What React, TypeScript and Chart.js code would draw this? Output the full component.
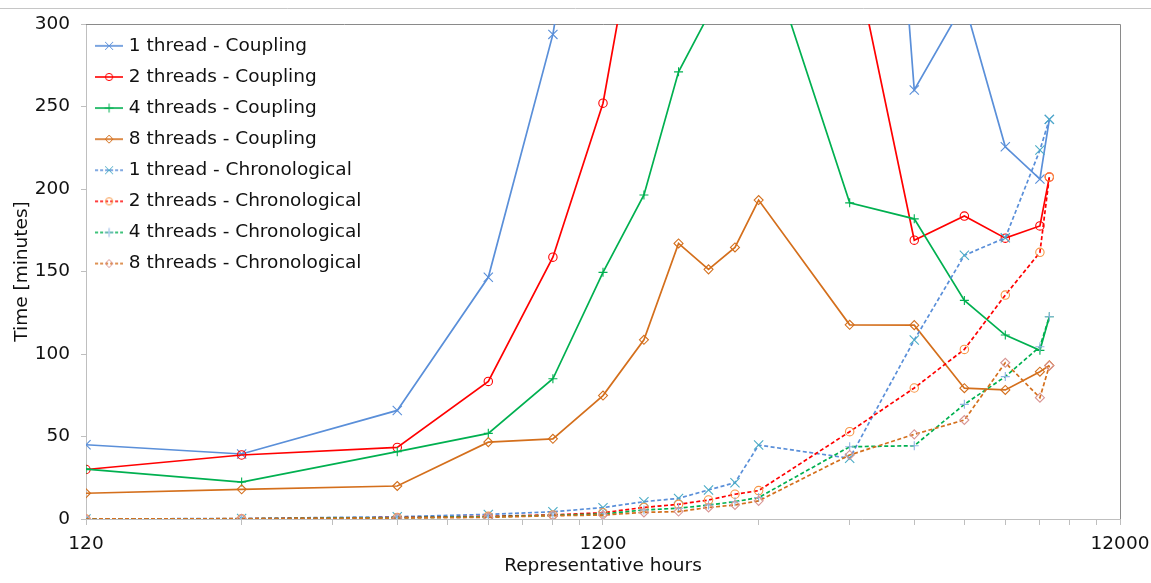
import React, { useEffect, useRef } from "react";
import { Chart, registerables } from "chart.js";

Chart.register(...registerables);

// Representative hours (x, logarithmic)
const HOURS = [120, 240, 480, 720, 960, 1200, 1440, 1680, 1920, 2160, 2400, 3600, 4800, 6000, 7200, 8400, 8760];

// Time in minutes
const COUPLING_1 = [45, 39.4, 65.8, 146.5, 293.7, 480, 540, 600, 650, 700, 740, 772, 260, 313, 225.6, 206, 242.2];
const COUPLING_2 = [30, 38.8, 43.4, 83.4, 158.7, 252, 390, 430, 470, 500, 520, 356, 169, 183.6, 170.2, 177.6, 207.2];
const COUPLING_4 = [30.2, 22.4, 40.8, 51.9, 85, 149.5, 196.4, 271, 305.5, 335, 360, 191.6, 181.9, 132.5, 111.5, 102.2, 122.6];
const COUPLING_8 = [15.6, 18, 20, 46.6, 48.6, 74.8, 108.6, 167, 151.3, 164.6, 193.3, 117.7, 117.5, 79.3, 78.2, 89.3, 93.1];
const CHRONO_1 = [0, 0.3, 1.4, 2.8, 4.4, 6.9, 10.5, 12.5, 17.6, 22, 44.8, 36.8, 108.5, 159.8, 170.4, 223.6, 242.2];
const CHRONO_2 = [0, 0.1, 0.9, 1.6, 2.5, 3.8, 7, 8.9, 11.5, 15, 17.2, 52.9, 79.4, 102.8, 135.7, 161.6, 207.3];
const CHRONO_4 = [0, 0.1, 0.8, 1.3, 2.2, 3, 5.5, 6.5, 8.5, 10.5, 13, 43.8, 44.4, 69.5, 86.3, 104.4, 122.6];
const CHRONO_8 = [0, 0.2, 0.6, 1, 2, 2.4, 4, 4.5, 7, 8.5, 11, 38.8, 51.3, 60, 94.7, 73.5, 92.9];

const SERIES_LABELS = [
  "1 thread - Coupling",
  "2 threads - Coupling",
  "4 threads - Coupling",
  "8 threads - Coupling",
  "1 thread - Chronological",
  "2 threads - Chronological",
  "4 threads - Chronological",
  "8 threads - Chronological",
];

const X_TICKS = [120, 240, 360, 480, 600, 720, 840, 960, 1080, 1200, 2400, 3600, 4800, 6000, 7200, 8400, 9600, 10800, 12000];
const X_LABELS = [120, 1200, 12000];
const Y_TICK_STEP = 50;

const FONT = "'DejaVu Sans', sans-serif";
const TEXT = "#111111";
const AXIS = "#bfbfbf";

const C1 = "#5A8FD9";
const C2 = "#FF0000";
const C4 = "#00B050";
const C8 = "#D46F1C";
const M1 = "#4BACC6";
const M2 = "#F79646";
const M4 = "#8EB4E3";
const M8 = "#D99694";

type Spec = { data: number[]; color: string; marker: string; style: string; radius: number; dashed: boolean };

const SPECS: Spec[] = [
  { data: COUPLING_1, color: C1, marker: C1, style: "crossRot", radius: 6.5, dashed: false },
  { data: COUPLING_2, color: C2, marker: C2, style: "circle", radius: 4.2, dashed: false },
  { data: COUPLING_4, color: C4, marker: C4, style: "cross", radius: 4.5, dashed: false },
  { data: COUPLING_8, color: C8, marker: C8, style: "rectRot", radius: 4.5, dashed: false },
  { data: CHRONO_1, color: C1, marker: M1, style: "crossRot", radius: 6.5, dashed: true },
  { data: CHRONO_2, color: C2, marker: M2, style: "circle", radius: 4.2, dashed: true },
  { data: CHRONO_4, color: C4, marker: M4, style: "cross", radius: 4.5, dashed: true },
  { data: CHRONO_8, color: C8, marker: M8, style: "rectRot", radius: 4.5, dashed: true },
];

function legendIcon(spec: Spec): HTMLCanvasElement {
  const c = document.createElement("canvas");
  c.width = 28;
  c.height = 14;
  const ctx = c.getContext("2d")!;
  ctx.strokeStyle = spec.color;
  ctx.lineWidth = 1.6;
  if (spec.dashed) ctx.setLineDash([3, 2]);
  ctx.beginPath();
  ctx.moveTo(0, 7);
  ctx.lineTo(28, 7);
  ctx.stroke();
  ctx.setLineDash([]);
  ctx.strokeStyle = spec.marker;
  ctx.lineWidth = 1;
  const cx = 14;
  const cy = 7;
  ctx.beginPath();
  if (spec.style === "crossRot") {
    const r = 4;
    ctx.moveTo(cx - r, cy - r);
    ctx.lineTo(cx + r, cy + r);
    ctx.moveTo(cx + r, cy - r);
    ctx.lineTo(cx - r, cy + r);
  } else if (spec.style === "circle") {
    ctx.arc(cx, cy, 3.6, 0, Math.PI * 2);
  } else if (spec.style === "cross") {
    const r = 4.5;
    ctx.moveTo(cx - r, cy);
    ctx.lineTo(cx + r, cy);
    ctx.moveTo(cx, cy - r);
    ctx.lineTo(cx, cy + r);
  } else {
    const r = 4;
    ctx.moveTo(cx - r, cy);
    ctx.lineTo(cx, cy - r);
    ctx.lineTo(cx + r, cy);
    ctx.lineTo(cx, cy + r);
    ctx.closePath();
  }
  ctx.stroke();
  return c;
}

const framePlugin = {
  id: "frame",
  beforeDatasetsDraw(chart: any) {
    const { ctx, chartArea } = chart;
    const { left, top, right, bottom } = chartArea;
    ctx.save();
    ctx.lineWidth = 1;
    ctx.strokeStyle = "#8a8a8a";
    ctx.beginPath();
    ctx.moveTo(Math.round(left), Math.round(top) + 0.5);
    ctx.lineTo(Math.round(right) + 0.5, Math.round(top) + 0.5);
    ctx.lineTo(Math.round(right) + 0.5, Math.round(bottom));
    ctx.stroke();
    ctx.strokeStyle = "#c6c6c6";
    ctx.beginPath();
    ctx.moveTo(0, 8.5);
    ctx.lineTo(chart.width, 8.5);
    ctx.stroke();
    ctx.restore();
  },
};

export default function App() {
  const ref = useRef<HTMLCanvasElement>(null);

  useEffect(() => {
    if (!ref.current) return;
    const font = { family: FONT, size: 18.5 };
    const datasets = SPECS.map((s, i) => ({
      label: SERIES_LABELS[i],
      data: HOURS.map((h, j) => ({ x: h, y: s.data[j] })),
      borderColor: s.color,
      backgroundColor: s.color,
      borderWidth: 1.7,
      borderDash: s.dashed ? [4, 2.5] : [],
      pointStyle: s.style,
      pointRadius: s.radius,
      pointBorderColor: s.marker,
      pointBackgroundColor: "rgba(255,255,255,0)",
      pointBorderWidth: 1.1,
      tension: 0,
      fill: false,
      order: SPECS.length - i,
    }));

    const chart = new Chart(ref.current, {
      type: "line",
      data: { datasets },
      plugins: [framePlugin],
      options: {
        responsive: false,
        animation: false,
        layout: { padding: { top: 24, right: 31, left: 0, bottom: 0 } },
        plugins: {
          tooltip: { enabled: false },
          legend: {
            position: "chartArea" as any,
            align: "start",
            title: { display: true, text: "", font: { size: 10 }, padding: { top: 12, bottom: 0 } },
            labels: {
              usePointStyle: true,
              pointStyleWidth: 21,
              padding: 12.6,
              color: TEXT,
              font,
              generateLabels: () =>
                SPECS.map((s, i) => ({
                  text: SERIES_LABELS[i],
                  pointStyle: legendIcon(s) as any,
                  fillStyle: "rgba(0,0,0,0)",
                  strokeStyle: "rgba(0,0,0,0)",
                  lineWidth: 0,
                  hidden: false,
                  datasetIndex: i,
                  fontColor: TEXT,
                })),
            },
          },
        },
        scales: {
          x: {
            type: "logarithmic",
            min: 120,
            max: 12000,
            afterBuildTicks: (scale: any) => {
              scale.ticks = X_TICKS.map((v) => ({ value: v }));
            },
            afterFit: (scale: any) => {
              scale.height = 64;
              scale.paddingLeft = 0;
              scale.paddingRight = 0;
            },
            ticks: {
              autoSkip: false,
              maxRotation: 0,
              minRotation: 0,
              padding: 8,
              color: TEXT,
              font,
              callback: (v: any) => (X_LABELS.includes(Number(v)) ? String(v) : ""),
            },
            grid: { drawOnChartArea: false, tickLength: 6, color: AXIS },
            border: { color: AXIS },
            title: {
              display: true,
              text: "Representative hours",
              color: TEXT,
              font,
              padding: { top: 0, bottom: 6 },
            },
          },
          y: {
            type: "linear",
            min: 0,
            max: 300,
            afterFit: (scale: any) => {
              scale.width = 86;
            },
            ticks: { stepSize: Y_TICK_STEP, padding: 11, color: TEXT, font },
            grid: { drawOnChartArea: false, tickLength: 5, color: AXIS },
            border: { color: AXIS },
            title: {
              display: true,
              text: "Time [minutes]",
              color: TEXT,
              font,
              padding: { top: 11, bottom: 0 },
            },
          },
        },
      },
    } as any);
    return () => chart.destroy();
  }, []);

  return (
    <div style={{ position: "fixed", left: 0, top: 0, width: 1151, height: 583, background: "#ffffff" }}>
      <canvas ref={ref} width={1151} height={583} style={{ display: "block" }} />
    </div>
  );
}
